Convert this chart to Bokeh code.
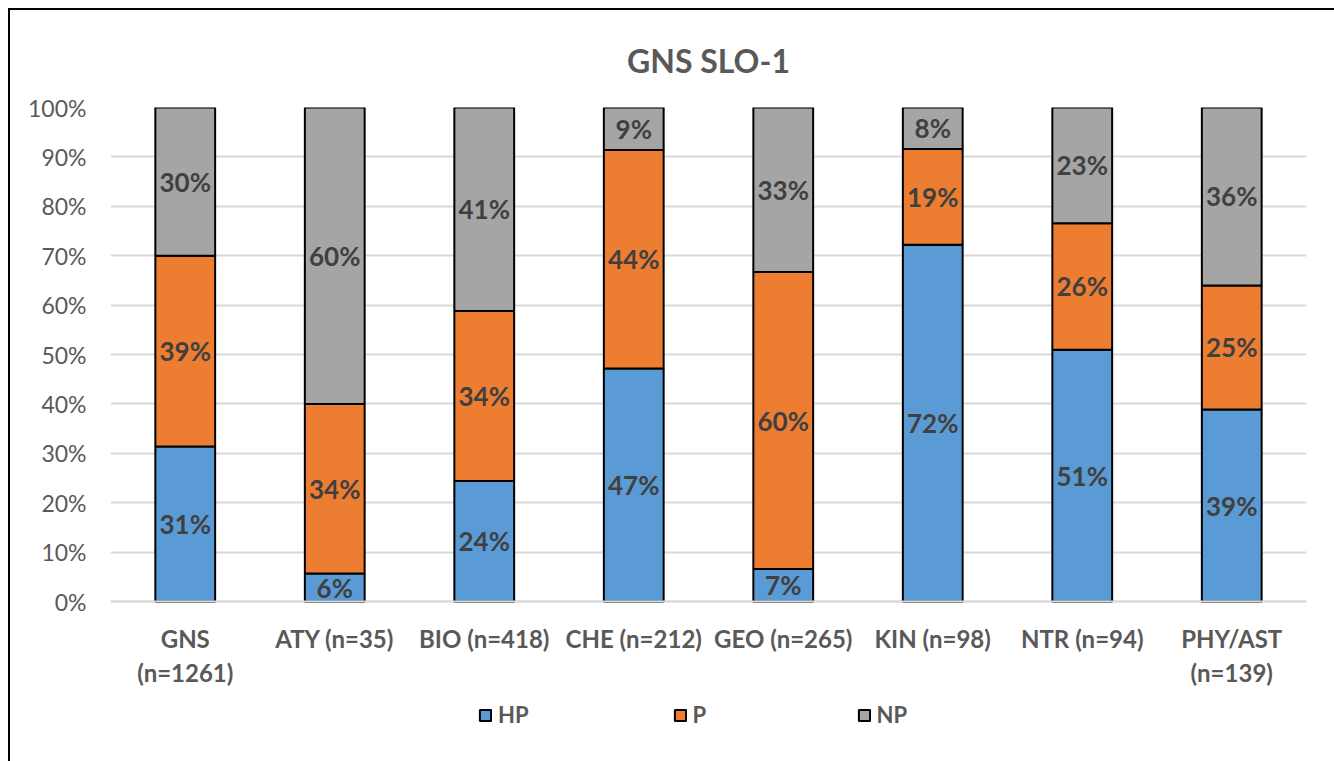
from bokeh.plotting import figure
from bokeh.models import (ColumnDataSource, FactorRange, Range1d, FixedTicker,
                          PrintfTickFormatter, Legend, LegendItem, Title)
from bokeh.core.properties import value
from bokeh.embed import file_html
from bokeh.resources import INLINE

# ---- data ----
categories = ["GNS\n(n=1261)", "ATY (n=35)", "BIO (n=418)", "CHE (n=212)",
              "GEO (n=265)", "KIN (n=98)", "NTR (n=94)", "PHY/AST\n(n=139)"]
series_names = ["HP", "P", "NP"]
hp = [31.4, 5.7, 24.4, 47.2, 6.6, 72.2, 51.0, 38.9]
p_vals = [38.6, 34.3, 34.4, 44.2, 60.1, 19.4, 25.6, 25.1]
np_vals = [30.0, 60.0, 41.2, 8.6, 33.3, 8.4, 23.4, 36.0]
colors = ["#5B9BD5", "#ED7D31", "#A5A5A5"]
y_ticks = [0, 10, 20, 30, 40, 50, 60, 70, 80, 90, 100]

FONT = "Lato"
GRAY = "#595959"

src = ColumnDataSource(dict(cat=categories, HP=hp, P=p_vals, NP=np_vals))

# frame extends below 0 so the category labels and legend sit inside it
p = figure(x_range=FactorRange(*categories), y_range=Range1d(-28.1, 100),
           frame_width=1196, frame_height=633, output_backend="svg", toolbar_location=None,
           min_border_left=100, min_border_right=28, min_border_top=97,
           min_border_bottom=21)
p.styles = {"margin-left": "8px", "margin-top": "8px",
            "border-left": "2px solid black", "border-top": "2px solid black"}
p.outline_line_color = None
p.background_fill_color = "white"

rs = p.vbar_stack(series_names, x="cat", width=0.4, source=src, color=colors,
                  line_color="black", line_width=2)

# data labels
lab_x, lab_y, lab_t = [], [], []
for i, c in enumerate(categories):
    base = 0.0
    for v in (hp[i], p_vals[i], np_vals[i]):
        lab_x.append(c)
        lab_y.append(base + v / 2.0)
        lab_t.append(f"{v:.0f}%")
        base += v
lsrc = ColumnDataSource(dict(x=lab_x, y=lab_y, t=lab_t))
p.text(x="x", y="y", text="t", source=lsrc, text_align="center",
       text_baseline="middle", text_font=value(FONT), text_font_style="bold",
       text_font_size="26px", text_color="#404040")

# axes
p.yaxis.ticker = FixedTicker(ticks=y_ticks)
p.yaxis.formatter = PrintfTickFormatter(format="%d%%")
p.yaxis.axis_line_color = None
p.yaxis.major_tick_line_color = None
p.yaxis.minor_tick_line_color = None
p.yaxis.major_label_text_font = FONT
p.yaxis.major_label_text_font_size = "23px"
p.yaxis.major_label_text_color = GRAY
p.yaxis.major_label_standoff = 18

p.xaxis.fixed_location = 0
p.xaxis.axis_line_color = "#D9D9D9"
p.xaxis.axis_line_width = 2
p.xaxis.major_tick_line_color = None
p.xaxis.minor_tick_line_color = None
p.xaxis.major_label_text_font = FONT
p.xaxis.major_label_text_font_style = "bold"
p.xaxis.major_label_text_font_size = "24px"
p.xaxis.major_label_text_color = GRAY
p.xaxis.major_label_standoff = 16

p.xgrid.grid_line_color = None
p.ygrid.ticker = FixedTicker(ticks=y_ticks)
p.ygrid.grid_line_color = "#D9D9D9"
p.ygrid.grid_line_width = 2

# title
t = Title(text="GNS SLO-1", align="center", text_font=FONT, text_font_style="bold",
          text_font_size="32px", text_color=GRAY, standoff=56)
p.add_layout(t, "above")

# legend (inside the extended frame, below the category labels)
legend = Legend(items=[LegendItem(label=n, renderers=[r]) for n, r in zip(series_names, rs)],
                orientation="horizontal", location=(368, 12),
                label_text_font=FONT, label_text_font_style="bold",
                label_text_font_size="22px", label_text_color=GRAY,
                glyph_width=14, glyph_height=14, label_standoff=6, spacing=144,
                border_line_color=None, background_fill_alpha=0, margin=0, padding=4)
p.add_layout(legend, "center")

open("out.html", "w").write(file_html(p, INLINE))
